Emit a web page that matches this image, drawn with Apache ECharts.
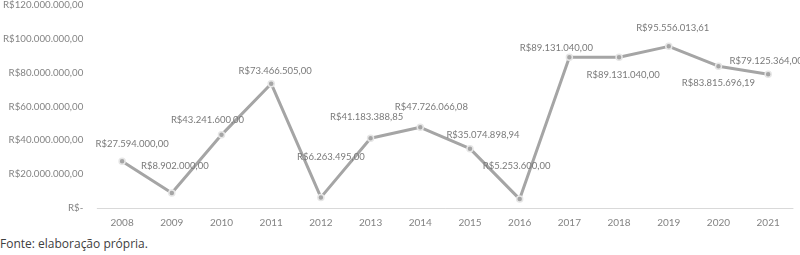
<!DOCTYPE html>
<html>
<head>
<meta charset="utf-8">
<script src="https://cdn.jsdelivr.net/npm/echarts@6/dist/echarts.min.js"></script>
<style>
  html, body { margin: 0; padding: 0; background: #fff; }
  #chart { width: 800px; height: 235px; }
  .fonte { position: absolute; left: 0; top: 235px; font: 12px "Open Sans", sans-serif; color: #404040; }
</style>
</head>
<body>
<div id="chart"></div>
<div class="fonte">Fonte: elaboração própria.</div>
<script>
const years = ["2008", "2009", "2010", "2011", "2012", "2013", "2014", "2015", "2016", "2017", "2018", "2019", "2020", "2021"];
const values = [27594000.00, 8902000.00, 43241600.00, 73466505.00, 6263495.00, 41183388.85, 47726066.08, 35074898.94, 5253600.00, 89131040.00, 89131040.00, 95556013.61, 83815696.19, 79125364.00];
// where each value label sits relative to its point, as in the source
const labelOffsets = [[10, -17], [3, -27], [-14, -15], [4, -13], [10, -40], [-4, -21], [11, -20], [13, -14], [-3, -33], [-13, -9], [4, 18], [4, -18], [0, 17], [-2, -13]];

const fmt = (v) => {
  if (v === 0) return "R$-";
  const parts = v.toFixed(2).split(".");
  return "R$" + parts[0].replace(/\B(?=(\d{3})+(?!\d))/g, ".") + "," + parts[1];
};

const font = "Lato, sans-serif";
const textColor = "#838383";

const chart = echarts.init(document.getElementById("chart"));
chart.setOption({
  animation: false,
  grid: { left: 97, right: 7, top: 4, bottom: 27 },
  xAxis: {
    type: "category",
    data: years,
    axisLine: { lineStyle: { color: "#d9d9d9", width: 1 } },
    axisTick: { show: false },
    axisLabel: { color: textColor, fontFamily: font, fontSize: 10, margin: 10 },
  },
  yAxis: {
    type: "value",
    min: 0,
    max: 120000000,
    interval: 20000000,
    axisLine: { show: false },
    axisTick: { show: false },
    splitLine: { show: false },
    axisLabel: { color: textColor, fontFamily: font, fontSize: 9.7, margin: 14, formatter: fmt },
  },
  series: [{
    type: "line",
    data: values.map((v, i) => ({
      value: v,
      label: { offset: labelOffsets[i] },
    })),
    lineStyle: { color: "#a5a5a5", width: 3 },
    symbol: "circle",
    symbolSize: 6,
    itemStyle: { color: "#a5a5a5", borderColor: "#e6e6e6", borderWidth: 1.5 },
    label: {
      show: true,
      position: "inside",
      color: "#7a7a7a",
      fontFamily: font,
      fontSize: 9.5,
      formatter: (p) => fmt(p.value),
    },
  }],
});
</script>
</body>
</html>
